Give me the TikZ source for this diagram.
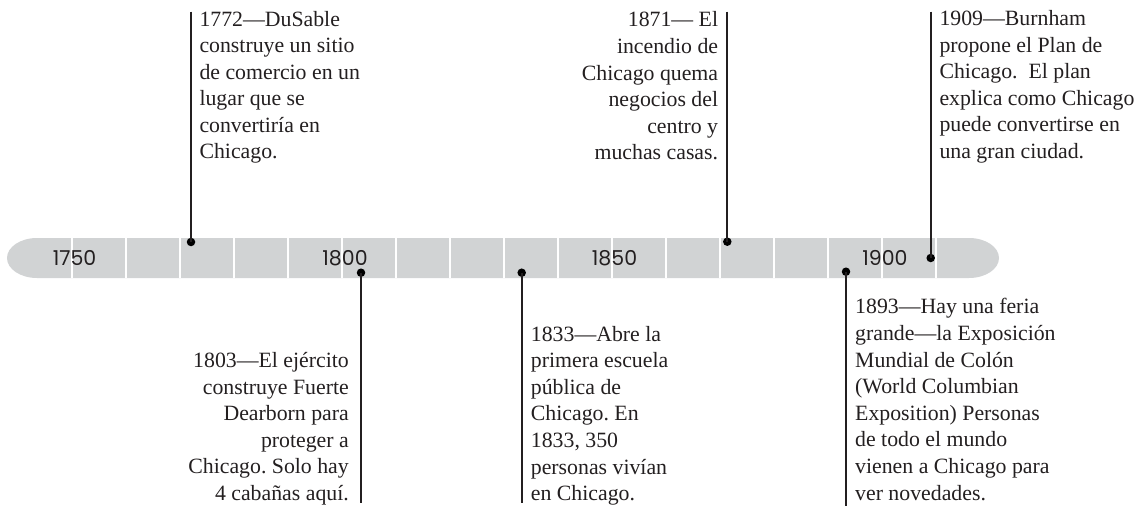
\documentclass[tikz,border=0pt]{standalone}
\usepackage{fontspec}
\setmainfont{Liberation Serif}
\newfontfamily\yearfont{Poppins}
\definecolor{bargray}{HTML}{D1D3D4}
\definecolor{ink}{HTML}{231F20}
\frenchspacing
\begin{document}
\begin{tikzpicture}[x=1pt,y=-1pt,
  evt/.style={inner sep=0pt, text=ink, font=\fontsize{21.8}{26.6}\selectfont},
  evl/.style={evt, align=left, anchor=base west},
  evr/.style={evt, align=right, anchor=base east},
  yr/.style={font=\yearfont\fontsize{20.5}{20.5}\selectfont, text=ink, inner sep=0pt},
  stem/.style={line width=1.7pt, draw=ink},
  dot/.style={circle, fill=black, inner sep=0pt, minimum size=8.5pt},
  sepline/.style={white, line width=2pt}]
\useasboundingbox (0,0) rectangle (1138,508);
% bar
\fill[bargray] (37,238) -- (969,238)
  arc[start angle=-90,end angle=90,x radius=30,y radius=20]
  -- (37,278)
  arc[start angle=90,end angle=270,x radius=30,y radius=20] -- cycle;
\foreach \i in {0,...,16} \draw[sepline] ({72+54*\i},238) -- ({72+54*\i},278);
% years
\node[yr] (y1750) at (74.5,258) {1750};
\node[yr] (y1800) at (345,258) {1800};
\node[yr] (y1850) at (614.5,258) {1850};
\node[yr] (y1900) at (885,258) {1900};
% top events (anchor = baseline of last line)
\node[dot] (d1772) at (191,242) {};
\coordinate (t1772) at (191,11.7);
\draw[stem] (t1772) -- (d1772.center);
\node[evl] (e1772) at (199.3,159) {1772—DuSable\\construye un sitio\\de comercio en un\\lugar que se\\convertiría en\\Chicago.};

\node[dot] (d1871) at (727.3,241.7) {};
\coordinate (t1871) at (727.3,11.7);
\draw[stem] (t1871) -- (d1871.center);
\node[evr] (e1871) at (718.3,160) {1871— El\\incendio de\\Chicago quema\\negocios del\\centro y\\muchas casas.};

\node[dot] (d1909) at (930.7,258) {};
\coordinate (t1909) at (930.7,11.7);
\draw[stem] (t1909) -- (d1909.center);
\node[evl] (e1909) at (939.3,158.5) {1909—Burnham\\propone el Plan de\\Chicago.\ \ El plan\\explica como Chicago\\puede convertirse en\\una gran ciudad.};
% bottom events
\node[dot] (d1803) at (361,272.7) {};
\coordinate (b1803) at (361,503);
\draw[stem] (d1803.center) -- (b1803);
\node[evr] (e1803) at (349,500.5) {1803—El ejército\\construye Fuerte\\Dearborn para\\proteger a\\Chicago. Solo hay\\4 cabañas aquí.};

\node[dot] (d1833) at (521.7,272.7) {};
\coordinate (b1833) at (521.7,503);
\draw[stem] (d1833.center) -- (b1833);
\node[evl] (e1833) at (530.7,500.6) {1833—Abre la\\primera escuela\\pública de\\Chicago. En\\1833, 350\\personas vivían\\en Chicago.};

\node[dot] (d1893) at (846,271.7) {};
\coordinate (b1893) at (846,506);
\draw[stem] (d1893.center) -- (b1893);
\node[evl] (e1893) at (855,500) {1893—Hay una feria\\grande—la Exposición\\Mundial de Colón\\(World Columbian\\Exposition) Personas\\de todo el mundo\\vienen a Chicago para\\ver novedades.};
\end{tikzpicture}
\end{document}
